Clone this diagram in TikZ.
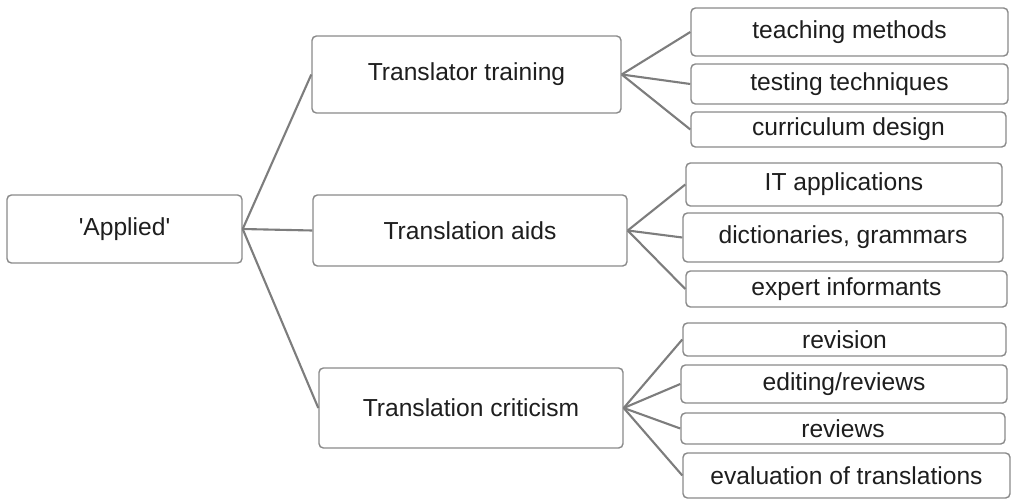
\documentclass[tikz,border=0pt]{standalone}
\usepackage{fontspec}
\setmainfont{Liberation Sans}
\usepackage{xcolor}
\usepackage{tikz}
\usetikzlibrary{positioning}

\definecolor{boxline}{RGB}{138,138,138}
\definecolor{linkline}{RGB}{125,125,125}
\definecolor{labeltext}{RGB}{30,30,30}

\begin{document}
\begin{tikzpicture}[
    box/.style={draw=boxline, line width=0.8pt, rectangle, rounded corners=2.5pt, fill=white,
        inner sep=0pt, align=center, text=labeltext, font=\fontsize{14}{16}\selectfont},
    link/.style={draw=linkline, line width=1.2pt}
]
\useasboundingbox (0,0) rectangle (20.24,9.98);

% root and branches
\node[box, minimum width=4.70cm, minimum height=1.36cm] (applied) at (2.49,5.40) {\textquotesingle Applied\textquotesingle};
\node[box, minimum width=6.18cm, minimum height=1.54cm] (training) at (9.33,8.49) {Translator training};
\node[box, minimum width=6.28cm, minimum height=1.42cm] (aids) at (9.40,5.37) {Translation aids};
\node[box, minimum width=6.08cm, minimum height=1.60cm] (criticism) at (9.42,1.82) {Translation criticism};

% leaves
\node[box, minimum width=6.34cm, minimum height=0.96cm] (teaching) at (16.99,9.34) {teaching methods};
\node[box, minimum width=6.34cm, minimum height=0.80cm] (testing) at (16.99,8.30) {testing techniques};
\node[box, minimum width=6.30cm, minimum height=0.70cm] (curriculum) at (16.97,7.39) {curriculum design};
\node[box, minimum width=6.32cm, minimum height=0.86cm] (itapps) at (16.88,6.29) {IT applications};
\node[box, minimum width=6.40cm, minimum height=0.98cm] (dicts) at (16.86,5.23) {dictionaries, grammars};
\node[box, minimum width=6.42cm, minimum height=0.72cm] (experts) at (16.93,4.20) {expert informants};
\node[box, minimum width=6.46cm, minimum height=0.66cm] (revision) at (16.89,3.19) {revision};
\node[box, minimum width=6.52cm, minimum height=0.76cm] (editing) at (16.88,2.30) {editing/reviews};
\node[box, minimum width=6.48cm, minimum height=0.62cm] (reviews) at (16.86,1.41) {reviews};
\node[box, minimum width=6.54cm, minimum height=0.90cm] (evaluation) at (16.93,0.47) {evaluation of translations};

% connectors
\foreach \b in {training,aids,criticism}
    \draw[link] (applied.east) -- (\b.west);
\foreach \l in {teaching,testing,curriculum}
    \draw[link] (training.east) -- (\l.west);
\foreach \l in {itapps,dicts,experts}
    \draw[link] (aids.east) -- (\l.west);
\foreach \l in {revision,editing,reviews,evaluation}
    \draw[link] (criticism.east) -- (\l.west);
\end{tikzpicture}
\end{document}
